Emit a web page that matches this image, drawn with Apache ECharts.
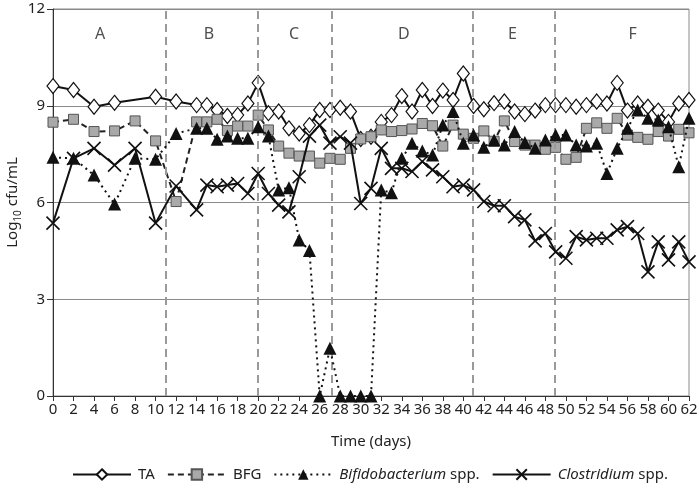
<!DOCTYPE html>
<html><head><meta charset="utf-8">
<script src="https://cdn.jsdelivr.net/npm/echarts@6/dist/echarts.min.js"></script>
<style>html,body{margin:0;padding:0;background:#fff}#c{width:699px;height:492px}</style>
</head><body><div id="c"></div>
<script>
// ---- data ----
const daysTA = [0,2,4,6,10,12,14,15,16,17,18,19,20,21,22,23,24,25,26,27,28,29,30,31,32,33,34,35,36,37,38,39,40,41,42,43,44,45,46,47,48,49,50,51,52,53,54,55,56,57,58,59,60,61,62];
const daysAll = [0,2,4,6,8,10,12,14,15,16,17,18,19,20,21,22,23,24,25,26,27,28,29,30,31,32,33,34,35,36,37,38,39,40,41,42,43,44,45,46,47,48,49,50,51,52,53,54,55,56,57,58,59,60,61,62];
const ta = [9.61,9.49,8.97,9.09,9.28,9.13,9.02,9.02,8.87,8.68,8.71,9.07,9.71,8.77,8.82,8.30,8.14,8.40,8.87,8.87,8.94,8.82,7.97,8.04,8.50,8.71,9.30,8.82,9.49,8.99,9.47,9.18,10.0,8.99,8.89,9.08,9.13,8.82,8.74,8.85,9.02,9.02,9.02,8.97,9.02,9.13,9.07,9.71,8.85,9.07,8.97,8.85,8.50,9.07,9.18];
const bfg = [8.49,8.58,8.20,8.22,8.53,7.91,6.03,8.50,8.50,8.58,8.23,8.37,8.37,8.71,8.25,7.75,7.53,7.44,7.44,7.22,7.37,7.34,7.68,7.97,8.04,8.25,8.20,8.23,8.28,8.45,8.38,7.75,8.40,8.12,7.99,8.22,7.90,8.53,7.89,7.78,7.78,7.65,7.71,7.34,7.40,8.30,8.47,8.30,8.61,8.09,8.02,7.96,8.20,8.06,8.27,8.16];
const bifido = [7.40,7.37,6.85,5.95,7.37,7.34,8.14,8.30,8.30,7.96,8.06,7.99,7.99,8.35,8.06,6.39,6.46,4.84,4.51,0,1.48,0,0,0,0,6.39,6.30,7.37,7.84,7.60,7.47,8.40,8.82,7.84,8.09,7.71,7.94,7.78,8.20,7.86,7.68,7.94,8.09,8.09,7.78,7.75,7.84,6.90,7.68,8.30,8.87,8.61,8.56,8.35,7.11,8.61];
const clostridium = [5.36,7.37,7.68,7.16,7.68,5.36,6.51,5.77,6.54,6.49,6.54,6.59,6.28,6.90,6.28,5.92,5.71,6.80,8.06,8.40,7.84,8.04,7.84,5.97,6.44,7.68,7.06,7.06,6.96,7.27,7.01,6.80,6.49,6.54,6.39,6.03,5.90,5.90,5.56,5.46,4.81,5.04,4.47,4.27,4.94,4.84,4.89,4.89,5.15,5.25,5.04,3.85,4.78,4.22,4.78,4.16];
const phaseDividers = [11, 20, 27.2, 40.9, 48.9];
const phaseLabels = ['A','B','C','D','E','F'];
const phaseLabelDays = [4.6, 15.2, 23.5, 34.2, 44.8, 56.5];
const phaseLabelLevel = [11.2, 11.2, 11.2, 11.2, 11.2, 11.2];
const seriesNames = ['TA', 'BFG', 'Bifidobacterium spp.', 'Clostridium spp.'];

function pairs(d, v) { return d.map((x, i) => [x, v[i]]); }
const F = 'Noto Sans';
const chart = echarts.init(document.getElementById('c'), null, {renderer: 'canvas'});
chart.setOption({
  animation: false,
  textStyle: {fontFamily: F},
  grid: {left: 53, right: 10, top: 9, bottom: 96, containLabel: false, outerBoundsMode: 'none',
    show: true, borderColor: '#8a8a8a', borderWidth: 1},
  xAxis: {
    type: 'value', min: 0, max: 62, interval: 2,
    axisLine: {lineStyle: {color: '#333', width: 1}},
    axisTick: {show: true, inside: false, length: 5, lineStyle: {color: '#333'}},
    axisLabel: {fontSize: 15, color: '#222', margin: 6, fontFamily: F},
    splitLine: {show: false},
    name: 'Time (days)', nameLocation: 'middle', nameGap: 38,
    nameTextStyle: {fontSize: 15, color: '#222', fontFamily: F}
  },
  yAxis: {
    type: 'value', min: 0, max: 12, interval: 3,
    axisLine: {show: true, lineStyle: {color: '#333', width: 1}},
    axisTick: {show: true, length: 6, lineStyle: {color: '#333'}},
    axisLabel: {fontSize: 15, color: '#222', margin: 8, fontFamily: F},
    splitLine: {show: true, lineStyle: {color: '#8a8a8a', width: 1}},
    name: '{a|Log}{b|10}{a| cfu/mL}', nameLocation: 'middle', nameGap: 30, nameMoveOverlap: false,
    nameTextStyle: {color: '#222', rich: {
      a: {fontSize: 15, fontFamily: F, color: '#222', lineHeight: 20},
      b: {fontSize: 10, fontFamily: F, color: '#222', verticalAlign: 'bottom', lineHeight: 12, padding: [8, 0, 0, 0]}
    }}
  },
  legend: {
    top: 467, left: 72, width: 627, padding: 0,
    data: seriesNames,
    itemWidth: 58, itemHeight: 13, itemGap: 12,
    formatter: function (n) {
      if (n === seriesNames[2]) return '{i|Bifidobacterium} spp.';
      if (n === seriesNames[3]) return '{i|Clostridium} spp.';
      return n;
    },
    textStyle: {fontSize: 15, color: '#222', fontFamily: F, padding: [0, 0, 0, 2],
      rich: {i: {fontStyle: 'italic', fontSize: 15, color: '#222', fontFamily: F}}}
  },
  series: [
    {
      name: 'dividers', type: 'line', data: [], z: 1, silent: true,
      markLine: {
        silent: true, symbol: ['none', 'none'], label: {show: false},
        lineStyle: {color: '#9a9a9a', type: [8, 5], width: 2},
        data: phaseDividers.map(d => ({xAxis: d}))
      }
    },
    {
      name: 'phases', type: 'scatter', symbolSize: 0, z: 1, silent: true,
      data: pairs(phaseLabelDays, phaseLabelLevel),
      label: {show: true, position: 'inside', fontSize: 16, color: '#222', fontFamily: F,
        formatter: p => phaseLabels[p.dataIndex]}
    },
    {
      name: seriesNames[0], type: 'line', z: 3, data: pairs(daysTA, ta),
      symbol: 'diamond', symbolSize: [12, 15], showAllSymbol: true,
      itemStyle: {color: '#fff', borderColor: '#111', borderWidth: 1.2},
      lineStyle: {color: '#111', width: 2}
    },
    {
      name: seriesNames[1], type: 'line', z: 4, data: pairs(daysAll, bfg),
      symbol: 'rect', symbolSize: 10, showAllSymbol: true,
      itemStyle: {color: '#a9a9a9', borderColor: '#555', borderWidth: 1},
      lineStyle: {color: '#222', width: 2, type: [6, 4]}
    },
    {
      name: seriesNames[2], type: 'line', z: 5, data: pairs(daysAll, bifido),
      symbol: 'triangle', symbolSize: [13, 13], showAllSymbol: true,
      itemStyle: {color: '#111', borderColor: '#111', borderWidth: 0},
      lineStyle: {color: '#111', width: 2, type: [2, 4]}
    },
    {
      name: seriesNames[3], type: 'line', z: 6, data: pairs(daysAll, clostridium),
      symbol: 'path://M0,0L10,10M10,0L0,10', symbolSize: 13, showAllSymbol: true,
      itemStyle: {color: '#111', borderColor: '#111', borderWidth: 1.6},
      lineStyle: {color: '#111', width: 2}
    }
  ]
});
</script></body></html>
